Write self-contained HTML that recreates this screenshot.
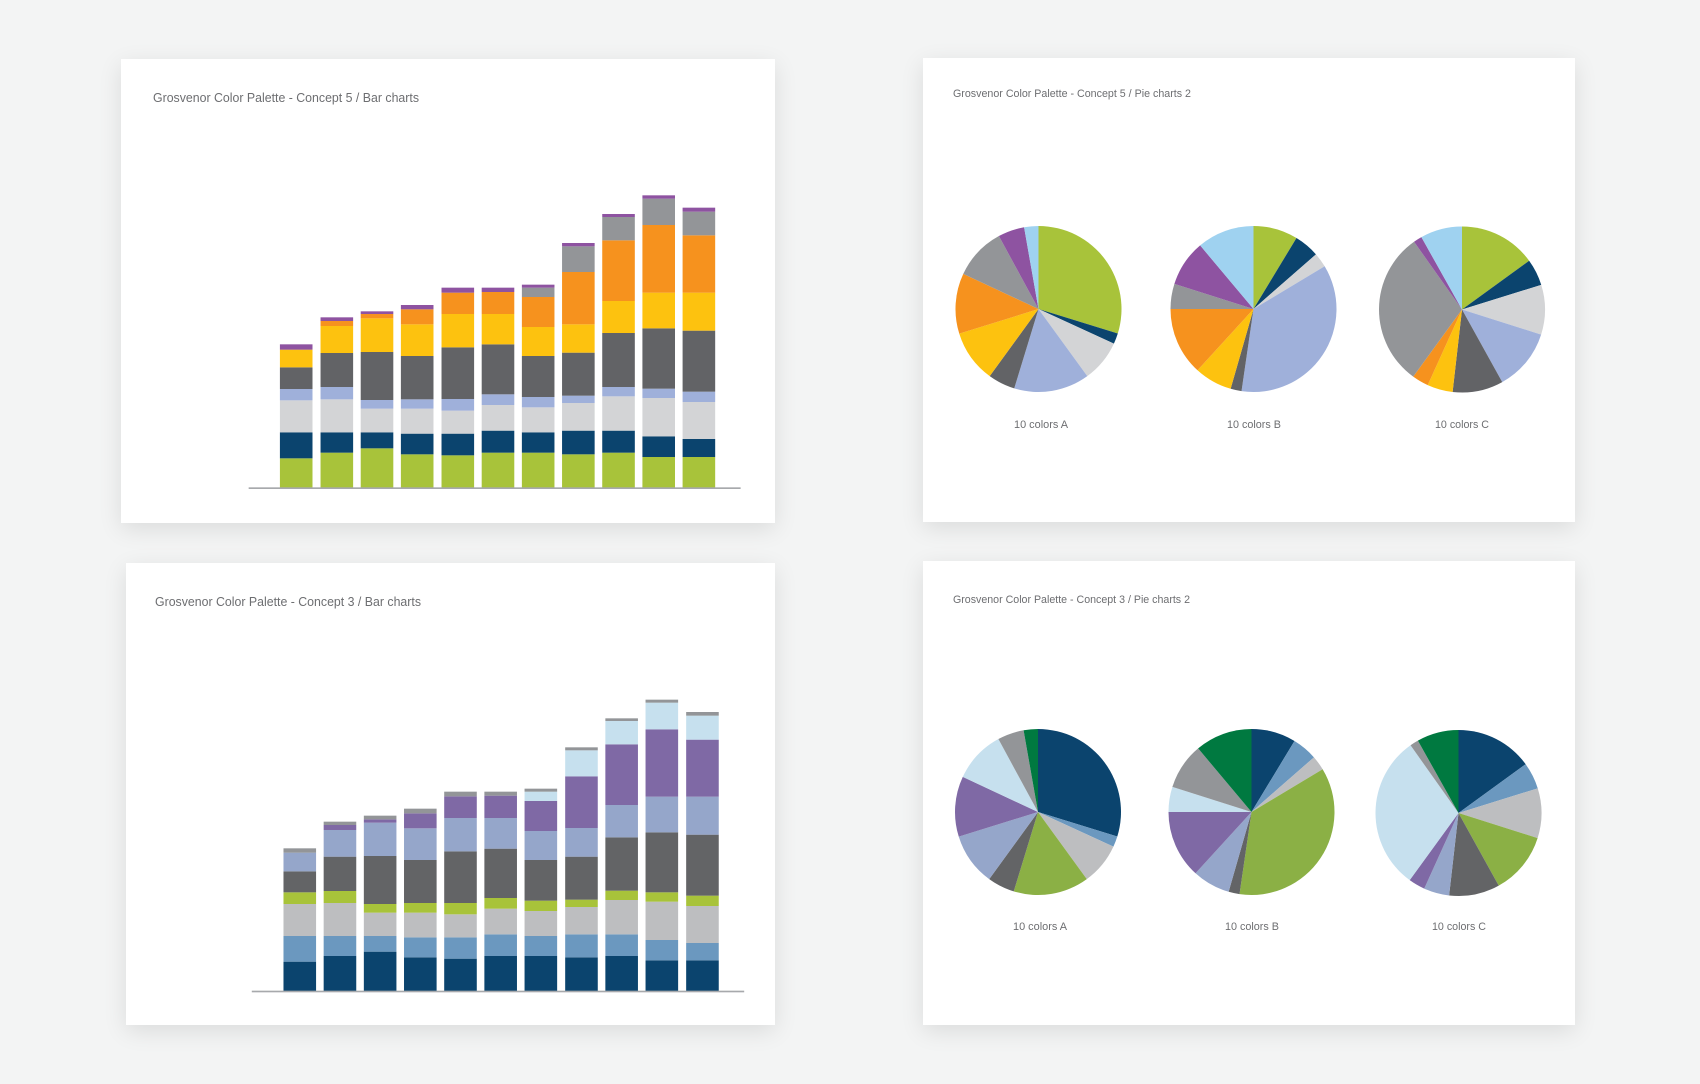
<!DOCTYPE html>
<html><head><meta charset="utf-8"><style>
html,body{margin:0;padding:0;background:#f3f4f4;width:1700px;height:1084px;overflow:hidden;position:relative}
.p{position:absolute;background:#fff;box-shadow:0 6px 22px rgba(0,0,0,0.10)}
svg{position:absolute;left:0;top:0}
text{font-family:"Liberation Sans",sans-serif;fill:#6d6e71}
</style></head><body>
<div class="p" style="left:121px;top:59px;width:654px;height:464px"></div>
<div class="p" style="left:923px;top:58px;width:652px;height:464px"></div>
<div class="p" style="left:126px;top:563px;width:649px;height:462px"></div>
<div class="p" style="left:923px;top:561px;width:652px;height:464px"></div>
<svg id="s" width="1700" height="1084" viewBox="0 0 1700 1084">
<text x="153" y="102" font-size="13" textLength="266" lengthAdjust="spacingAndGlyphs">Grosvenor Color Palette - Concept 5 / Bar charts</text>
<text x="953" y="97" font-size="11" textLength="238" lengthAdjust="spacingAndGlyphs">Grosvenor Color Palette - Concept 5 / Pie charts 2</text>
<text x="155" y="606" font-size="13" textLength="266" lengthAdjust="spacingAndGlyphs">Grosvenor Color Palette - Concept 3 / Bar charts</text>
<text x="953" y="603" font-size="11" textLength="237" lengthAdjust="spacingAndGlyphs">Grosvenor Color Palette - Concept 3 / Pie charts 2</text>
<text x="1014" y="428" font-size="11" textLength="54" lengthAdjust="spacingAndGlyphs">10 colors A</text>
<text x="1227" y="428" font-size="11" textLength="54" lengthAdjust="spacingAndGlyphs">10 colors B</text>
<text x="1435" y="428" font-size="11" textLength="54" lengthAdjust="spacingAndGlyphs">10 colors C</text>
<text x="1013" y="930" font-size="11" textLength="54" lengthAdjust="spacingAndGlyphs">10 colors A</text>
<text x="1225" y="930" font-size="11" textLength="54" lengthAdjust="spacingAndGlyphs">10 colors B</text>
<text x="1432" y="930" font-size="11" textLength="54" lengthAdjust="spacingAndGlyphs">10 colors C</text>
<g id="b1" transform="translate(100,40) scale(0.44643,0.33333)"></g>
<g id="b2" transform="translate(100,540) scale(0.44643,0.33333)"></g>
<g id="pies"></g>
</svg>
<script>
var NS="http://www.w3.org/2000/svg";
function el(p,t,a){var e=document.createElementNS(NS,t);for(var k in a)e.setAttribute(k,a[k]);p.appendChild(e);return e;}
var c1=["#a8c33a","#0b446e","#d3d4d6","#9fb0da","#626366","#fdc20f","#f6921e","#939598","#8e53a1","#9fd2f0"];
var c2=["#0b446e","#6b98bf","#bdbec0","#8bb045","#636466","#95a6ca","#7f69a5","#c6e0ee","#939598","#007940"];
// bar1 order: green,navy,lgray,peri,dgray,yellow,orange,gray,purple
var b1=[[1255,1177,1081,1047,982,929,929,929,913],[1238,1177,1078,1041,939,858,843,843,832],[1225,1177,1106,1080,936,835,822,822,814],[1243,1181,1106,1078,948,853,808,808,795],[1246,1181,1112,1077,922,822,758,758,743],[1238,1172,1095,1063,913,822,756,756,743],[1238,1177,1102,1071,948,861,771,743,734],[1243,1172,1089,1067,938,853,696,619,609],[1238,1172,1069,1041,879,783,601,531,522],[1251,1189,1074,1046,865,758,555,476,466],[1251,1197,1086,1055,872,758,586,515,503]];
var x1=[403,494,584,674,765,855,945,1035,1125,1215,1305];
var col1=[c1[0],c1[1],c1[2],c1[3],c1[4],c1[5],c1[6],c1[7],c1[8]];
// bar2 order: navy,steel,lgray,green,dgray,peri,purple,lightblue,gray
var b2=[[1265,1188,1092,1057,994,938,938,938,925],[1248,1188,1089,1053,950,870,855,855,845],[1235,1188,1118,1092,948,848,838,838,827],[1252,1192,1118,1089,960,865,820,820,806],[1256,1192,1123,1089,934,834,769,769,755],[1248,1183,1106,1074,926,834,767,767,755],[1248,1188,1113,1082,960,873,783,755,746],[1252,1183,1101,1079,950,864,709,631,622],[1248,1183,1080,1052,892,795,613,543,535],[1261,1200,1085,1057,877,770,568,488,479],[1261,1209,1098,1067,884,770,599,527,516]];
var x2=[411,501,591,681,771,861,951,1042,1132,1222,1313];
var col2=["#0b446e","#6b98bf","#bdbec0","#a8c33a","#636466","#95a6ca","#7f69a5","#c6e0ee","#939598"];
function bars(g,data,xs,cols,base,ax0,ax1){
 g=document.getElementById(g);
 data.forEach(function(b,i){var prev=base;
  b.forEach(function(top,j){if(prev-top>0.5)el(g,"rect",{x:xs[i],y:top,width:73,height:prev-top,fill:cols[j]});prev=top;});
 });
 el(g,"rect",{x:ax0,y:base-1,width:ax1-ax0,height:5,fill:"#a7a9ac"});
}
bars("b1",b1,x1,col1,1343,333,1435);
bars("b2",b2,x2,col2,1353,340,1443);
var angA=[0,107.2,114.7,144,197,216,252.7,295,331.5,350,360];
var angB=[0,31.2,48.8,59,188.3,196,222.4,270,287.6,320,360];
var angC=[0,54,72.7,107.6,151,186.5,204.4,216,324.7,330.7,360];
var pg=document.getElementById("pies");
function pie(cx,cy,r,ang,cols){
 for(var i=0;i<10;i++){var a0=ang[i]*Math.PI/180,a1=ang[i+1]*Math.PI/180;
  var x0=cx+r*Math.sin(a0),y0=cy-r*Math.cos(a0),xx=cx+r*Math.sin(a1),yy=cy-r*Math.cos(a1);
  var lg=(ang[i+1]-ang[i])>180?1:0;
  el(pg,"path",{d:"M"+cx+","+cy+"L"+x0+","+y0+"A"+r+","+r+" 0 "+lg+" 1 "+xx+","+yy+"Z",fill:cols[i]});}
}
pie(1038.5,309,83,angA,c1);pie(1253.5,309,83,angB,c1);pie(1462,309.5,83,angC,c1);
pie(1038,812,83,angA,c2);pie(1251.5,812,83,angB,c2);pie(1458.5,813,83,angC,c2);
</script>
</body></html>
